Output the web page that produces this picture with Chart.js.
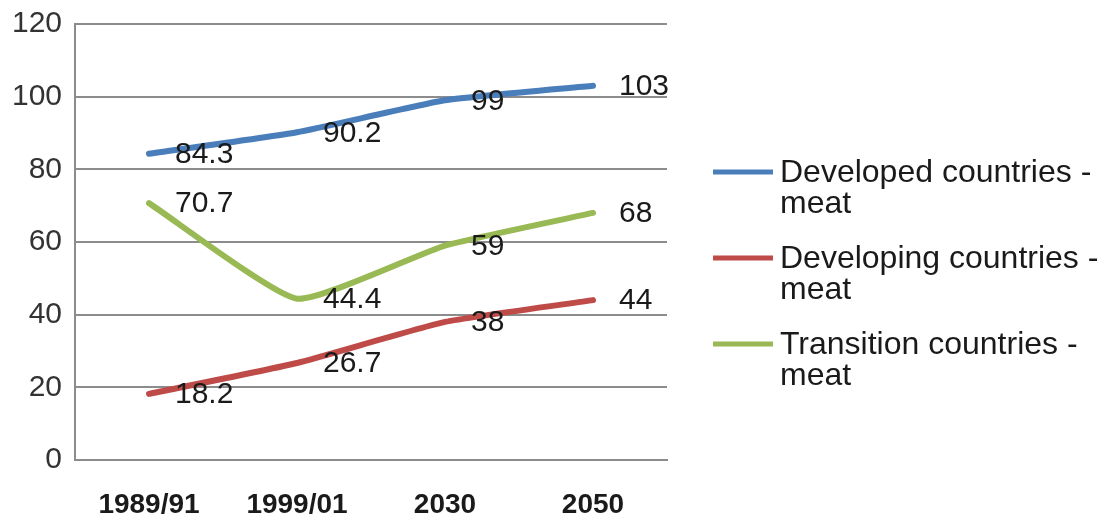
<!DOCTYPE html>
<html>
<head>
<meta charset="utf-8">
<script src="https://cdn.jsdelivr.net/npm/chart.js@4"></script>
<style>
  html, body { margin: 0; padding: 0; background: #fff; }
  #wrap { width: 1106px; height: 521px; position: relative; }
</style>
</head>
<body>
<div id="wrap"><canvas id="chart"></canvas></div>
<script>
// Meat consumption by country group (kg per person per year)
const periods = ['1989/91', '1999/01', '2030', '2050'];
const developedMeat = [84.3, 90.2, 99, 103];
const developingMeat = [18.2, 26.7, 38, 44];
const transitionMeat = [70.7, 44.4, 59, 68];
const seriesNames = [
  'Developed countries - meat',
  'Developing countries - meat',
  'Transition countries - meat'
];
const yTickValues = [0, 20, 40, 60, 80, 100, 120];

const seriesColors = ['#4A7EBB', '#BE4B48', '#98B954'];
const FONT = "'Liberation Sans', Arial, sans-serif";
const GRID = '#8c8c8c';
const TEXT = '#1a1a1a';

// Value labels sit to the right of each point
const valueLabels = {
  id: 'valueLabels',
  afterDatasetsDraw(chart) {
    const ctx = chart.ctx;
    ctx.save();
    ctx.font = '30px ' + FONT;
    ctx.fillStyle = TEXT;
    ctx.textAlign = 'left';
    ctx.textBaseline = 'middle';
    chart.data.datasets.forEach((ds, i) => {
      const meta = chart.getDatasetMeta(i);
      meta.data.forEach((pt, j) => {
        ctx.fillText(String(ds.data[j]), pt.x + 26, pt.y + 1);
      });
    });
    ctx.restore();
  }
};

// Legend on the right with wrapped series names
const sideLegend = {
  id: 'sideLegend',
  afterDraw(chart) {
    const ctx = chart.ctx;
    const lineX0 = 713, lineX1 = 773, textX = 780;
    const maxW = 1106 - textX - 2;
    const startY = 172, itemGap = 86, lineH = 31;
    ctx.save();
    ctx.font = '32px ' + FONT;
    ctx.textAlign = 'left';
    ctx.textBaseline = 'middle';
    chart.data.datasets.forEach((ds, i) => {
      const y = startY + i * itemGap;
      ctx.strokeStyle = ds.borderColor;
      ctx.lineWidth = 5;
      ctx.lineCap = 'butt';
      ctx.beginPath();
      ctx.moveTo(lineX0, y);
      ctx.lineTo(lineX1, y);
      ctx.stroke();
      // wrap words to the available width
      const words = ds.label.split(' ');
      const lines = [];
      let cur = '';
      words.forEach(w => {
        const test = cur ? cur + ' ' + w : w;
        if (ctx.measureText(test).width > maxW && cur) {
          lines.push(cur);
          cur = w;
        } else {
          cur = test;
        }
      });
      if (cur) lines.push(cur);
      ctx.fillStyle = TEXT;
      lines.forEach((ln, k) => ctx.fillText(ln, textX, y + 1 + k * lineH));
    });
    ctx.restore();
  }
};

const mkSeries = (label, data, color) => ({
  label,
  data,
  borderColor: color,
  backgroundColor: color,
  borderWidth: 6,
  borderCapStyle: 'round',
  borderJoinStyle: 'round',
  pointRadius: 0,
  pointHoverRadius: 0,
  tension: 0.15,
  fill: false
});

new Chart(document.getElementById('chart'), {
  type: 'line',
  data: {
    labels: periods,
    datasets: [
      mkSeries(seriesNames[0], developedMeat, seriesColors[0]),
      mkSeries(seriesNames[1], developingMeat, seriesColors[1]),
      mkSeries(seriesNames[2], transitionMeat, seriesColors[2])
    ]
  },
  options: {
    responsive: true,
    maintainAspectRatio: false,
    animation: false,
    layout: { padding: { left: 0, right: 439, top: 24, bottom: 0 } },
    plugins: {
      legend: { display: false },
      tooltip: { enabled: false }
    },
    scales: {
      x: {
        offset: true,
        grid: { display: false, drawTicks: false },
        border: { display: true, color: GRID, width: 2 },
        ticks: {
          font: { family: FONT, size: 28, weight: 'bold' },
          color: TEXT,
          padding: 28,
          maxRotation: 0
        },
        afterFit(scale) { scale.height = 61; }
      },
      y: {
        min: 0,
        max: 120,
        afterBuildTicks(scale) { scale.ticks = yTickValues.map(v => ({ value: v })); },
        grid: { color: GRID, lineWidth: 2, drawTicks: false },
        border: { display: true, color: GRID, width: 2 },
        ticks: {
          font: { family: FONT, size: 30 },
          color: '#333',
          padding: 13
        },
        afterFit(scale) {
          scale.width = 75;
          scale.paddingTop = 0;
          scale.paddingBottom = 0;
        }
      }
    }
  },
  plugins: [valueLabels, sideLegend]
});
</script>
</body>
</html>
